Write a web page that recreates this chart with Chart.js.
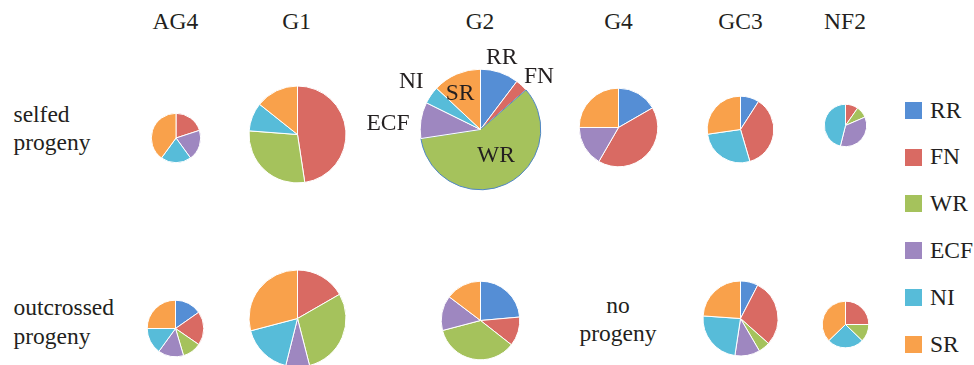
<!DOCTYPE html>
<html>
<head>
<meta charset="utf-8">
<script src="https://cdn.jsdelivr.net/npm/chart.js@4"></script>
<style>
  body { margin: 0; background: #fff; color: #231f20; }
  #wrap { position: relative; width: 974px; height: 365px; overflow: hidden; }
  .t { position: absolute; font-family: "Liberation Serif", "Times New Roman", serif; font-size: 23.5px; line-height: 1; white-space: nowrap; }
  .c { transform: translateX(-50%); }
  canvas { position: absolute; }
  .sw { position: absolute; width: 17px; height: 17px; }
</style>
</head>
<body>
<div id="wrap"></div>
<script>
// categories and colours
var categories = ["RR", "FN", "WR", "ECF", "NI", "SR"];
var colors = ["#558ED5", "#D96A63", "#A5C25C", "#9E87C0", "#57BCD9", "#F9A14B"];

var lines = ["AG4", "G1", "G2", "G4", "GC3", "NF2"];

// percentages per category (RR, FN, WR, ECF, NI, SR)
var selfedAG4 = [0, 20, 0, 20, 20, 40];
var selfedG1 = [0, 47.6, 28.6, 0, 9.5, 14.3];
var selfedG2 = [10.3, 3.3, 59, 9.7, 4.7, 13];
var selfedG4 = [16.7, 41.7, 0, 16.7, 0, 25];
var selfedGC3 = [9.1, 36.4, 0, 0, 27.3, 27.3];
var selfedNF2 = [0, 9.7, 8.8, 35.4, 46.1, 0];

var outcrossedAG4 = [15.3, 19.3, 10.8, 14.6, 15, 25];
var outcrossedG1 = [0, 16.7, 29.3, 7.9, 17, 29.1];
var outcrossedG2 = [23.6, 12, 35.3, 14.4, 0, 14.7];
var outcrossedG4 = null; // no progeny
var outcrossedGC3 = [7.6, 29, 5, 10.8, 23.7, 23.9];
var outcrossedNF2 = [0, 25, 12.3, 0, 25.5, 37.2];

// where each pie sits: centre x, centre y, radius
var layout = [
  { data: selfedAG4, x: 175.5, y: 138, r: 24.7 },
  { data: selfedG1, x: 297.5, y: 134.5, r: 48.5 },
  { data: selfedG2, x: 480, y: 129.3, r: 60.3, highlight: 2 },
  { data: selfedG4, x: 618.7, y: 127.7, r: 39.3 },
  { data: selfedGC3, x: 740.7, y: 129, r: 33.3 },
  { data: selfedNF2, x: 845.5, y: 125.7, r: 21.2 },
  { data: outcrossedAG4, x: 175, y: 328.3, r: 28.3 },
  { data: outcrossedG1, x: 297.5, y: 318.5, r: 48.5 },
  { data: outcrossedG2, x: 480, y: 320.8, r: 39.3 },
  { data: outcrossedGC3, x: 740.8, y: 318, r: 37.5 },
  { data: outcrossedNF2, x: 845.7, y: 324.3, r: 23.3 }
];

var wrap = document.getElementById('wrap');
var FS = 23.5;

// place text by its baseline
function addText(txt, x, base, centred) {
  var d = document.createElement('div');
  d.className = 't' + (centred ? ' c' : '');
  d.textContent = txt;
  d.style.left = x + 'px';
  d.style.top = (base - 0.8375 * FS) + 'px';
  wrap.appendChild(d);
  return d;
}

// column headings
var headX = [175.3, 296.7, 480, 618.5, 740.5, 845];
lines.forEach(function(name, i) { addText(name, headX[i], 30, true); });

// row labels
addText("selfed", 13.5, 122.3);
addText("progeny", 13.5, 151);
addText("outcrossed", 13.5, 316);
addText("progeny", 13.5, 345);
addText("no", 618, 313.3, true);
addText("progeny", 618, 341.7, true);

// pies
layout.forEach(function(p) {
  var size = Math.ceil(p.r * 2 + 6);
  var cv = document.createElement('canvas');
  cv.width = size; cv.height = size;
  cv.style.width = size + 'px'; cv.style.height = size + 'px';
  cv.style.left = (p.x - size / 2) + 'px';
  cv.style.top = (p.y - size / 2) + 'px';
  wrap.appendChild(cv);
  var borders = categories.map(function(c, i) { return i === p.highlight ? '#4F86C6' : '#ffffff'; });
  new Chart(cv.getContext('2d'), {
    type: 'pie',
    data: {
      labels: categories,
      datasets: [{
        data: p.data,
        backgroundColor: colors,
        borderColor: borders,
        borderWidth: 1,
        hoverOffset: 0
      }]
    },
    options: {
      responsive: false,
      animation: false,
      radius: p.r,
      layout: { padding: 0 },
      plugins: { legend: { display: false }, tooltip: { enabled: false } }
    }
  });
});

// slice labels on the G2 selfed pie
addText("RR", 501.7, 65, true);
addText("FN", 539, 83.3, true);
addText("NI", 411.3, 88.3, true);
addText("SR", 460, 100.7, true);
addText("ECF", 388, 131, true);
addText("WR", 496, 162.7, true);

// legend
var legendBase = [118.3, 165, 211.7, 258.3, 305.7, 352.7];
categories.forEach(function(c, i) {
  var s = document.createElement('div');
  s.className = 'sw';
  s.style.left = '905px';
  s.style.top = (legendBase[i] - 16.5) + 'px';
  s.style.background = colors[i];
  wrap.appendChild(s);
  addText(c, 930, legendBase[i]);
});
</script>
</body>
</html>
